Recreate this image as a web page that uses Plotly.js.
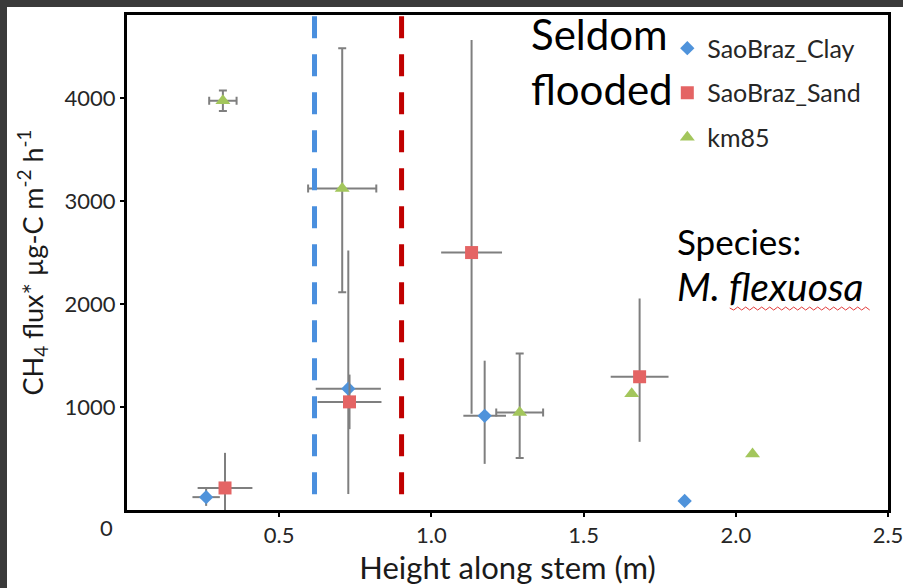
<!DOCTYPE html>
<html><head><meta charset="utf-8">
<script src="https://cdn.plot.ly/plotly-3.0.1.min.js"></script>
<style>
html,body{margin:0;padding:0;background:#3a3a3a;overflow:hidden;width:903px;height:588px}
#chart{position:absolute;left:7px;top:7px;width:896px;height:581px;background:#fff}
</style>
</head><body><div id="chart"></div>
<script>
const seriesNames = ['SaoBraz_Clay', 'SaoBraz_Sand', 'km85'];

const clayX = [0.26, 0.727, 1.175, 1.832];
const clayY = [125, 1178, 915, 88];
const clayXErr = [0.045, 0.107, 0.07, NaN];
const clayYErrPlus = [85, 1342, 535, NaN];
const clayYErrMinus = [85, 1023, 467, NaN];

const sandX = [0.322, 0.731, 1.132, 1.684];
const sandY = [214, 1050, 2500, 1294];
const sandXErr = [0.09, 0.105, 0.10, 0.095];
const sandYErrPlus = [341, 265, 2064, 760];
const sandYErrMinus = [341, 265, 1566, 632];

const kmX = [0.315, 0.707, 1.29, 1.658, 2.055];
const kmY = [3974, 3121, 947, 1129, 545];
const kmXErr = [0.045, 0.112, 0.077, NaN, NaN];
const kmYErrPlus = [100, 1363, 574, NaN, NaN];
const kmYErrMinus = [100, 1006, 441, NaN, NaN];

const floodLineX = [0.616, 0.902];
const floodLineColors = ['#4a8fde', '#c00000'];

const xTickVals = [0.5, 1.0, 1.5, 2.0, 2.5];
const xTickText = ['0.5', '1.0', '1.5', '2.0', '2.5'];
const yTickVals = [0, 1000, 2000, 3000, 4000];
const yTickText = ['0', '1000', '2000', '3000', '4000'];

const FONT = 'Lato, "Open Sans", sans-serif';
const ERR_COLOR = '#7f7f7f';

function errX(arr, w) { return {type: 'data', array: arr, symmetric: true, color: ERR_COLOR, thickness: 2, width: w}; }
function errY(p, m, w) { return {type: 'data', array: p, arrayminus: m, symmetric: false, color: ERR_COLOR, thickness: 2, width: w}; }

const traces = [
  {x: clayX, y: clayY, name: seriesNames[0], type: 'scatter', mode: 'markers', legendgroup: 'a',
   marker: {symbol: 'diamond', size: 11, color: '#4f93db'},
   error_x: errX(clayXErr, 0), error_y: errY(clayYErrPlus, clayYErrMinus, 0)},
  {x: sandX, y: sandY, name: seriesNames[1], type: 'scatter', mode: 'markers', legendgroup: 'b',
   marker: {symbol: 'square', size: 13, color: '#e46464'},
   error_x: errX(sandXErr, 0), error_y: errY(sandYErrPlus, sandYErrMinus, 0)},
  {x: kmX, y: kmY, name: seriesNames[2], type: 'scatter', mode: 'markers', legendgroup: 'c',
   marker: {symbol: 'triangle-up', size: 13, color: '#a3c65c'},
   error_x: errX(kmXErr, 4), error_y: errY(kmYErrPlus, kmYErrMinus, 4)}
];

const shapes = floodLineX.map((xv, i) => ({
  type: 'line', xref: 'x', yref: 'y', x0: xv, x1: xv, y0: 4794, y1: 140,
  line: {color: floodLineColors[i], width: 5, dash: '22px,16px'}
}));

// spell-check squiggle under "flexuosa"
let sq = 'M0,0';
for (let k = 1; k <= 35; k++) sq += ' L' + (k * 4) + ',' + (k % 2 ? -2 : 1);
shapes.push({type: 'path', xref: 'paper', yref: 'paper', xsizemode: 'pixel', ysizemode: 'pixel',
  xanchor: 0.792, yanchor: 0.408, path: sq, line: {color: '#e23b3b', width: 1}});

const layout = {
  width: 896, height: 581,
  margin: {l: 120, r: 15, t: 8, b: 78, pad: 0},
  paper_bgcolor: '#ffffff', plot_bgcolor: '#ffffff',
  font: {family: FONT, color: '#262626'},
  showlegend: true,
  legend: {x: 0.71, xanchor: 'left', y: 0.979, yanchor: 'top', bgcolor: 'rgba(0,0,0,0)',
           font: {family: FONT, size: 25, color: '#262626'}, tracegroupgap: 9},
  xaxis: {range: [0, 2.5], tickmode: 'array', tickvals: xTickVals, ticktext: xTickText,
          ticks: 'outside', ticklen: 4, tickwidth: 2, tickcolor: '#000', ticklabeloverflow: 'allow',
          showline: true, linecolor: '#000', linewidth: 3, mirror: true,
          showgrid: false, zeroline: false, tickfont: {size: 22, color: '#262626'},
          title: {text: 'Height along stem (m)', font: {size: 31, color: '#1a1a1a'}, standoff: 5}},
  yaxis: {range: [0, 4807], tickmode: 'array', tickvals: yTickVals.slice(1), ticktext: yTickText.slice(1),
          ticks: 'outside', ticklen: 4, tickwidth: 2, tickcolor: '#000', ticklabeloverflow: 'allow',
          showline: true, linecolor: '#000', linewidth: 3, mirror: true,
          showgrid: false, zeroline: false, tickfont: {size: 22, color: '#262626'},
          title: {text: 'CH<sub>4</sub> flux* µg-C m<sup>-2</sup> h<sup>-1</sup>', font: {size: 27, color: '#1a1a1a'}, standoff: 14}},
  shapes: shapes,
  annotations: [
    {xref: 'paper', yref: 'paper', x: 0.5283, y: 1.017, xanchor: 'left', yanchor: 'top', align: 'left',
     showarrow: false, text: 'Seldom<br>flooded', font: {size: 42, color: '#000'}},
    {xref: 'paper', yref: 'paper', x: 0.72, y: 0.59, xanchor: 'left', yanchor: 'top', align: 'left',
     showarrow: false, text: 'Species:<br><i><span style="font-size:39px">M. flexuosa</span></i>', font: {size: 35, color: '#000'}},
    {xref: 'paper', yref: 'paper', x: -0.016, y: -0.035, xanchor: 'right', yanchor: 'middle',
     showarrow: false, text: yTickText[0], font: {size: 22, color: '#262626'}}
  ]
};

Plotly.newPlot('chart', traces, layout, {displayModeBar: false, staticPlot: true});
</script>
</body></html>
